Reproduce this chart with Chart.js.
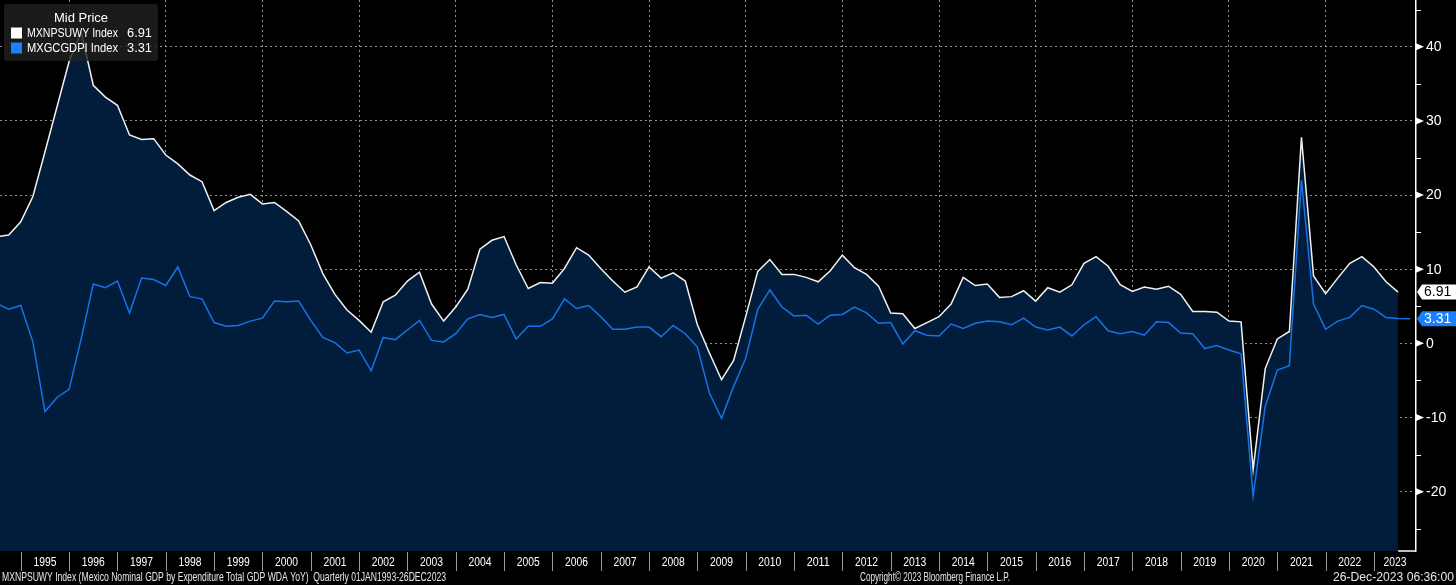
<!DOCTYPE html>
<html><head><meta charset="utf-8">
<script src="https://cdn.jsdelivr.net/npm/chart.js@4.4.0/dist/chart.umd.min.js"></script>
<style>html,body{margin:0;padding:0;background:#000;overflow:hidden}canvas{display:block}</style>
</head><body>
<canvas id="c" width="1456" height="585"></canvas>
<script>
// ---- data (quarterly, YoY %) starting 1994 Q2 ----
const FIRST_YEAR = 1994, FIRST_Q = 2;
const nominalGdp = [ // MXNPSUWY Index
  14.4, 14.6, 16.4,
  19.8, 25.8, 31.9, 38.0,
  42.0, 34.8, 33.2, 32.1,
  28.1, 27.5, 27.6, 25.4,
  24.2, 22.7, 21.8, 17.9,
  19.0, 19.7, 20.1, 18.8,
  19.0, 17.8, 16.5, 13.3,
  9.4, 6.6, 4.5, 3.1,
  1.5, 5.6, 6.5, 8.4,
  9.6, 5.3, 3.0, 4.9,
  7.3, 12.7, 13.9, 14.4,
  10.6, 7.4, 8.2, 8.1,
  10.1, 12.9, 11.9, 10.1,
  8.4, 6.9, 7.6, 10.3,
  8.8, 9.5, 8.4, 2.5,
  -1.3, -4.9, -2.3, 3.6,
  9.7, 11.3, 9.3, 9.3,
  8.9, 8.3, 9.8, 11.9,
  10.2, 9.3, 7.7, 4.1,
  4.0, 2.0, 2.8, 3.6,
  5.3, 8.9, 7.8, 8.0,
  6.2, 6.3, 7.1, 5.7,
  7.5, 6.9, 7.9, 10.8,
  11.7, 10.4, 7.9, 7.0,
  7.6, 7.3, 7.7, 6.6,
  4.3, 4.3, 4.2, 3.0,
  2.9, -17.0, -3.4, 0.6,
  1.6, 27.8, 9.1, 6.7,
  8.8, 10.8, 11.7, 10.3,
  8.3, 6.91
];
const realGdp = [ // MXGCGDPI Index
  5.4, 4.6, 5.1,
  0.2, -9.2, -7.3, -6.2,
  0.6, 8.0, 7.5, 8.4,
  4.1, 8.8, 8.6, 7.8,
  10.3, 6.3, 6.0, 2.8,
  2.3, 2.4, 3.0, 3.4,
  5.7, 5.6, 5.7, 3.1,
  0.8, 0.1, -1.3, -0.9,
  -3.7, 0.8, 0.5, 1.8,
  3.1, 0.4, 0.2, 1.3,
  3.3, 3.9, 3.5, 3.9,
  0.6, 2.3, 2.3, 3.3,
  6.0, 4.7, 5.1, 3.6,
  1.9, 1.9, 2.2, 2.2,
  0.9, 2.4, 1.3, -0.5,
  -6.7, -10.1, -5.8, -2.0,
  4.6, 7.2, 4.9, 3.7,
  3.8, 2.6, 3.8, 3.9,
  4.9, 4.1, 2.7, 2.8,
  -0.1, 1.7, 1.1, 1.0,
  2.6, 2.0, 2.7, 3.0,
  2.9, 2.5, 3.4, 2.2,
  1.8, 2.2, 1.0, 2.5,
  3.6, 1.7, 1.3, 1.6,
  1.1, 2.9, 2.8, 1.4,
  1.3, -0.7, -0.3, -0.9,
  -1.4, -20.6, -8.5, -3.6,
  -3.0, 22.0, 5.3, 1.9,
  3.0, 3.5, 5.1, 4.6,
  3.5, 3.35, 3.31
];
const yTickValues = [-20, -10, 0, 10, 20, 30, 40];
const yMinorTicks = [-25, -15, -5, 5, 15, 25, 35, 45];
const yearLabels = [];
for (let y = 1995; y <= 2023; y++) yearLabels.push(y);
const gridYears = [1996,1998,2000,2002,2004,2006,2008,2010,2012,2014,2016,2018,2020,2022];
const legendTitle = 'Mid Price';
const seriesNames = ['MXNPSUWY Index', 'MXGCGDPI Index'];
const footerLeft = 'MXNPSUWY Index (Mexico Nominal GDP by Expenditure Total GDP WDA YoY)  Quarterly 01JAN1993-26DEC2023';
const footerMid = 'Copyright\u00A9 2023 Bloomberg Finance L.P.';
const footerRight = '26-Dec-2023 06:36:00';

// quarter labels and their time position (quarter end)
const quarters = realGdp.map((_, i) => {
  const k = FIRST_Q - 1 + i;
  return (FIRST_YEAR + Math.floor(k / 4)) + 'Q' + (k % 4 + 1);
});
const qTime = q => +q.slice(0, 4) + (+q.slice(5)) * 0.25;
const toPts = arr => arr.map((v, i) => ({ x: qTime(quarters[i]), y: v }));

const FONT = "'Liberation Sans',Arial,sans-serif";
const NAVY = '#021d3b';
const BLUE = '#1673e6';
const BLUE_TAG = '#1a80fb';
const GRID = 'rgba(190,190,190,0.75)';

const lastNom = nominalGdp[nominalGdp.length - 1];
const lastReal = realGdp[realGdp.length - 1];

const overlay = {
  id: 'overlay',
  afterDraw(chart) {
    const ctx = chart.ctx, xs = chart.scales.x, ys = chart.scales.y, a = chart.chartArea;
    ctx.save();
    // bottom axis line to the right of the filled area
    const fillEnd = xs.getPixelForValue(qTime(quarters[nominalGdp.length - 1]));
    ctx.strokeStyle = '#ffffff'; ctx.lineWidth = 1.5;
    ctx.beginPath(); ctx.moveTo(fillEnd, a.bottom); ctx.lineTo(a.right, a.bottom); ctx.stroke();
    // year band separators and labels
    ctx.strokeStyle = '#9a9a9a'; ctx.lineWidth = 1;
    ctx.fillStyle = '#ffffff'; ctx.font = '13px ' + FONT;
    ctx.textAlign = 'center'; ctx.textBaseline = 'middle';
    yearLabels.forEach(yr => {
      const p = Math.round(xs.getPixelForValue(yr)) + 0.5;
      ctx.beginPath(); ctx.moveTo(p, a.bottom + 1); ctx.lineTo(p, a.bottom + 20); ctx.stroke();
      const l = Math.max(xs.getPixelForValue(yr), a.left);
      const r = Math.min(xs.getPixelForValue(yr + 1), a.right);
      if (r - l > 28) ctx.fillText(String(yr), (l + r) / 2, a.bottom + 11, 23);
    });
    // right axis labels, minor ticks and major markers
    ctx.strokeStyle = '#ffffff'; ctx.fillStyle = '#ffffff'; ctx.lineWidth = 1;
    yMinorTicks.forEach(v => {
      const py = Math.round(ys.getPixelForValue(v)) + 0.5;
      ctx.beginPath(); ctx.moveTo(a.right, py); ctx.lineTo(a.right + 5, py); ctx.stroke();
    });
    ctx.font = '14px ' + FONT; ctx.textAlign = 'left'; ctx.textBaseline = 'middle';
    yTickValues.forEach(v => {
      const py = ys.getPixelForValue(v);
      ctx.beginPath(); ctx.moveTo(a.right, py - 3.5); ctx.lineTo(a.right + 8, py); ctx.lineTo(a.right, py + 3.5); ctx.closePath(); ctx.fill();
      ctx.fillText(String(v), a.right + 10, py + 0.5, v < 0 ? 24 : 17);
    });
    // last value tags
    const tag = (val, bg, fg) => {
      const py = ys.getPixelForValue(val);
      ctx.fillStyle = bg;
      ctx.beginPath();
      ctx.moveTo(a.right + 1, py); ctx.lineTo(a.right + 6, py - 7.5); ctx.lineTo(chart.width, py - 7.5);
      ctx.lineTo(chart.width, py + 7.5); ctx.lineTo(a.right + 6, py + 7.5); ctx.closePath(); ctx.fill();
      ctx.fillStyle = fg; ctx.font = '14px ' + FONT; ctx.textAlign = 'left'; ctx.textBaseline = 'middle';
      ctx.fillText(val.toFixed(2), a.right + 8, py + 0.5, 28);
    };
    tag(lastNom, '#ffffff', '#000000');
    tag(lastReal, BLUE_TAG, '#ffffff');
    // legend
    ctx.fillStyle = 'rgba(32,32,32,0.82)';
    ctx.beginPath(); ctx.roundRect(4, 4, 154, 57, 3); ctx.fill();
    ctx.fillStyle = '#ffffff'; ctx.font = '13px ' + FONT; ctx.textBaseline = 'middle';
    ctx.textAlign = 'center'; ctx.fillText(legendTitle, 81, 18, 56);
    const rows = [[seriesNames[0], lastNom, '#ffffff'], [seriesNames[1], lastReal, '#1a80ff']];
    rows.forEach((r, i) => {
      const cy = 33 + i * 15;
      ctx.fillStyle = r[2]; ctx.fillRect(11, cy - 5.5, 11, 11);
      ctx.fillStyle = '#ffffff'; ctx.textAlign = 'left';
      ctx.fillText(r[0], 27, cy, 91);
      ctx.textAlign = 'right'; ctx.fillText(r[1].toFixed(2), 152, cy, 25);
    });
    // footer
    ctx.fillStyle = '#e6e6e6'; ctx.font = '13px ' + FONT; ctx.textBaseline = 'middle';
    const fy = 577;
    ctx.textAlign = 'left'; ctx.fillText(footerLeft, 2, fy, 444);
    ctx.textAlign = 'center'; ctx.fillText(footerMid, 935, fy, 150);
    ctx.textAlign = 'right'; ctx.fillText(footerRight, 1454, fy, 121);
    ctx.restore();
  }
};

new Chart(document.getElementById('c'), {
  type: 'line',
  data: {
    datasets: [
      { label: seriesNames[0], data: toPts(nominalGdp), borderColor: '#f2f2f2', borderWidth: 1.5,
        backgroundColor: NAVY, fill: 'start', pointRadius: 0, tension: 0, order: 2 },
      { label: seriesNames[1], data: toPts(realGdp), borderColor: BLUE, borderWidth: 1.5,
        fill: false, pointRadius: 0, tension: 0, order: 1 }
    ]
  },
  options: {
    responsive: false, animation: false, devicePixelRatio: 1,
    layout: { padding: 0 },
    plugins: { legend: { display: false }, tooltip: { enabled: false } },
    scales: {
      x: {
        type: 'linear', position: 'bottom', min: 1994.57, max: 2023.87,
        afterBuildTicks: s => { s.ticks = gridYears.map(v => ({ value: v })); },
        afterFit: s => { s.height = 34; s.paddingLeft = 0; s.paddingRight = 0; },
        ticks: { display: false },
        grid: { color: GRID, lineWidth: 1, drawTicks: false },
        border: { display: false, dash: [2, 3] }
      },
      y: {
        type: 'linear', position: 'right', min: -28, max: 46.3,
        afterBuildTicks: s => { s.ticks = yTickValues.map(v => ({ value: v })); },
        afterFit: s => { s.width = 40; s.paddingTop = 0; s.paddingBottom = 0; },
        ticks: { display: false },
        grid: { color: GRID, lineWidth: 1, drawTicks: false },
        border: { display: true, color: '#ffffff', width: 1.5, dash: [2, 3] }
      }
    }
  },
  plugins: [overlay]
});
</script>
</body></html>
